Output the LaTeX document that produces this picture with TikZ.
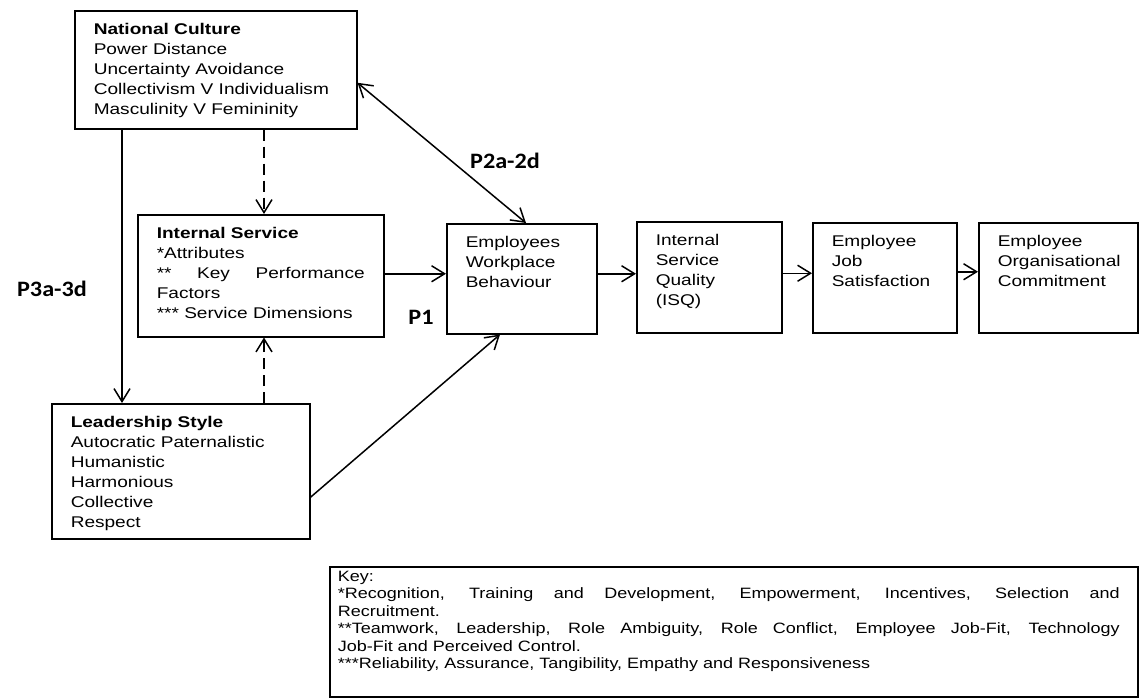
\documentclass[tikz,border=0pt]{standalone}
\usepackage{fontspec}
\setmainfont{Liberation Sans}
\newfontfamily\boxfont[FakeStretch=1.23]{Liberation Sans}
\newfontfamily\keyfont[FakeStretch=1.2]{Liberation Sans}
\newfontfamily\propfont[FakeStretch=1.1]{Carlito}
\usetikzlibrary{arrows.meta}

% box body: 19pt side padding, text hangs from the top
\newcommand\boxtext[3]{\hspace*{19pt}\parbox[c][\dimexpr#2-26pt\relax][t]{\dimexpr#1-38pt\relax}{\raggedright#3}\hspace*{19pt}}

\tikzset{
  framebox/.style={draw, line width=1.5pt, inner xsep=0pt, inner ysep=13pt,
    anchor=north west, font=\boxfont\fontsize{15.5}{20}\selectfont},
  keybox/.style={draw, line width=1.5pt, inner xsep=0pt, inner ysep=0pt,
    anchor=north west, font=\keyfont\fontsize{15}{17.5}\selectfont},
  prop/.style={font=\propfont\bfseries\fontsize{22}{24}\selectfont, inner sep=0pt},
  barb/.tip={Straight Barb[length=13pt,width=16pt]},
  arr/.style={line width=1.5pt, -barb},
  darr/.style={line width=1.5pt, barb-barb},
  dsh/.style={dash pattern=on 11pt off 6pt}
}

\begin{document}
\begin{tikzpicture}[x=1pt,y=-1pt]
\useasboundingbox (0,0) rectangle (1140,699);

% model boxes
\node[framebox] (NC) at (74,10) {\boxtext{282pt}{118pt}{%
  \textbf{National Culture}\\
  Power Distance\\
  Uncertainty Avoidance\\
  Collectivism V Individualism\\
  Masculinity V Femininity}};

\node[framebox] (IS) at (137,214) {\boxtext{246pt}{122pt}{%
  \textbf{Internal Service}\\\relax
  *Attributes\\
  \makebox[\linewidth][s]{** Key Performance}\\
  Factors\\\relax
  *** Service Dimensions}};

\node[framebox] (LS) at (51,403) {\boxtext{258pt}{135pt}{%
  \textbf{Leadership Style}\\
  Autocratic Paternalistic\\
  Humanistic\\
  Harmonious\\
  Collective\\
  Respect}};

\node[framebox] (EWB) at (446,223) {\boxtext{150pt}{110pt}{%
  Employees\\ Workplace\\ Behaviour}};

\node[framebox] (ISQ) at (636,221) {\boxtext{145pt}{111pt}{%
  Internal\\ Service\\ Quality\\ (ISQ)}};

\node[framebox] (JS) at (812,222) {\boxtext{144pt}{110pt}{%
  Employee\\ Job\\ Satisfaction}};

\node[framebox] (OC) at (978,222) {\boxtext{159pt}{110pt}{%
  Employee\\ Organisational\\ Commitment}};

% key
\node[keybox] (key) at (329,566) {\hspace*{8pt}\parbox[c][130pt][t]{782pt}{%
  \vspace*{4pt}%
  Key:\\
  \makebox[\linewidth][s]{*Recognition, Training and Development, Empowerment, Incentives, Selection and}\\
  Recruitment.\\
  \makebox[\linewidth][s]{**Teamwork, Leadership, Role Ambiguity, Role Conflict, Employee Job-Fit, Technology}\\
  Job-Fit and Perceived Control.\\\relax
  ***Reliability, Assurance, Tangibility, Empathy and Responsiveness}\hspace*{18pt}};

% proposition labels
\node[prop] (p1) at (421,317) {P1};
\node[prop] (p2) at (505,161) {P2a-2d};
\node[prop] (p3) at (52,289) {P3a-3d};

% connectors
\draw[arr] ([xshift=48pt]NC.south west) -- ([xshift=71pt]LS.north west);
\draw[arr,dsh] ([xshift=190pt]NC.south west) -- ([xshift=127pt]IS.north west);
\draw[arr,dsh] ([xshift=213pt]LS.north west) -- ([xshift=127pt]IS.south west);
\draw[arr] ([yshift=2pt]IS.east) -- ([yshift=2pt]IS.east -| EWB.west);
\draw[arr] ([yshift=5pt]EWB.east) -- ([yshift=5pt]EWB.east -| ISQ.west);
\draw[arr] ([yshift=4pt]ISQ.east) -- ([yshift=4pt]ISQ.east -| JS.west);
\draw[arr] ([yshift=6pt]JS.east) -- ([yshift=6pt]JS.east -| OC.west);
\draw[arr] ([yshift=-26pt]LS.east) -- ([xshift=54pt]EWB.south west);
\draw[darr] ([yshift=-13pt]NC.east) -- ([xshift=80pt]EWB.north west);
\end{tikzpicture}
\end{document}
